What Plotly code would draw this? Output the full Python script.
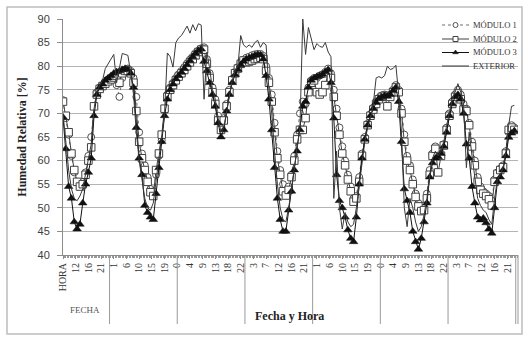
import plotly.graph_objects as go

# ---------------- data (hourly readings, first reading at 07:30 of day 1) ----------------
start_hour = 7.5
step_hours = 1.0

modulo1 = [
    72.8, 69, 65.5, 61, 57.5, 55.5, 55, 55.5, 57.5, 61, 65, 71.5, 74.5, 75.5, 76, 76.5, 77.2,
    77.5, 78, 76, 73.5, 77.5, 79.2, 79.5, 79, 77.5, 73.5, 66, 61.5, 59, 56.5, 54, 53.5, 57, 61, 64.3, 70.5, 74, 75.5, 76.5, 77.5,
    78.3, 79, 79.8, 80.6, 81.4, 82, 82.8, 83.3, 83.8, 84, 81.5, 78.5, 75.5, 73, 69.5, 67.5, 69, 72, 75, 77.3, 78.8, 79.8, 80.8, 81.4,
    81.8, 82, 82.3, 82.5, 82.6, 82.6, 82.2, 80, 77.5, 74, 68, 62, 58, 55, 53.5, 54.5, 57, 61, 65.5, 70, 72.5, 72, 75.5, 77,
    77.5, 77.5, 78, 78.3, 78.8, 79.5, 78.5, 75, 71, 67, 63, 60, 57, 54.5, 52, 52.5, 56.5, 61.5, 65, 67.8, 69.8, 71.2, 72.5, 73.3,
    73.8, 74, 73.5, 74, 75, 76, 75, 71, 65.5, 61, 59, 56, 53, 51, 50, 50.5, 53, 58, 61.5, 63, 61, 61.5, 63.5, 67,
    70, 72.5, 74, 75, 74, 72, 71, 68, 64, 60, 56.5, 54.5, 53.5, 53, 52.5, 51.5, 56, 57.5, 58.3, 59, 62, 66, 67.5, 67,
]
modulo2 = [
    72.5, 69.5, 66, 61.5, 58, 55.5, 54.5, 55, 57, 60, 62.8, 71.5, 74, 75.2, 75.8, 76.3, 76.8,
    77.2, 77.6, 78, 76.5, 78.5, 79, 79, 78.5, 76.5, 70.5, 64, 60.5, 58, 55.5, 53.3, 52.5, 58, 61.5, 65.5, 71, 73.5, 75, 76, 77,
    77.8, 78.5, 79.2, 80, 80.8, 81.5, 82.3, 83, 83.5, 83.5, 80.5, 77.5, 74.5, 72, 68.5, 66.5, 68.5, 71.5, 74.5, 77, 78.5, 79.5, 80.5, 81.2,
    80.8, 81, 81.2, 81.5, 81.6, 81.8, 81.5, 79, 76.5, 72.5, 66, 60.5, 57, 53.5, 52.6, 53.8, 56.5, 60, 64.5, 66.5, 66.5, 69, 74.5, 76.5,
    77, 74.5, 74, 74.5, 76, 78.5, 77.5, 73.5, 69.5, 65.5, 61.5, 59, 56, 53.5, 51.3, 52, 55.5, 61, 64.5, 67.5, 69.5, 70.8, 72, 73,
    73.5, 73.7, 71.5, 73.5, 74.5, 75.5, 74.5, 70, 64, 60, 58, 55, 52.3, 50.3, 49.3, 49.5, 52, 57, 61, 62.5, 57.5, 61, 63.2, 66.5,
    69.5, 72, 73.5, 74.3, 73, 70.8, 70.5, 67.5, 63, 59, 55.5, 53.8, 53, 52.5, 51.8, 50.5, 55.5, 57.2, 58, 58.6, 61.5, 66.5, 67, 66.5,
]
modulo3 = [
    69.2, 62.5, 54.5, 52, 47, 45.5, 46.5, 51, 55, 57.5, 60.5, 69.5, 74, 75.5, 76.2, 77, 77.5,
    78, 78.5, 78.8, 79, 79.3, 79.5, 79.3, 78.5, 75.5, 67, 60.5, 57, 50.5, 49, 48, 47.5, 53, 58.5, 64, 69.5, 73, 75, 76.2, 77.3,
    78, 78.7, 79.5, 80.3, 81.2, 82, 82.7, 83.3, 83.6, 81, 79, 76.5, 74, 71.5, 68, 65, 66.5, 70.5, 74, 76.5, 78.2, 79.3, 80.3, 81,
    81.5, 81.8, 82, 82.3, 82.5, 82.4, 81.5, 78, 73, 66.5, 58.5, 52, 47.5, 45, 45, 49.5, 53.5, 58, 62, 66.5, 71.5, 72.5, 75.5, 77,
    77.5, 77.8, 78, 78.3, 78.8, 79.3, 76.5, 69, 57, 51.5, 50, 48, 45.3, 43.5, 42.8, 48, 55, 60.5, 64.5, 67.5, 69.5, 71, 72.3, 73.2,
    73.5, 73.8, 73.6, 74, 74.8, 75.5, 72.5, 64, 54, 51.5, 49, 45, 42.8, 41.2, 43.5, 47, 51, 56.5, 59.5, 60.5, 60.8, 61.5, 63, 66,
    69.5, 72, 73.5, 74, 73, 70, 63.5, 60.5, 54.5, 51, 48, 47.4, 47.8, 46.8, 45.5, 44.6, 50, 55.5, 56.5, 58, 61, 64.9, 65.8, 66.3,
]
exterior = [
    70, 64, 58, 54, 52, 51.5, 52.5, 54, 57, 60, 63.5, 71, 74.5, 76, 77, 79.5, 80.5,
    81.5, 82.5, 76.5, 80, 82.7, 82.5, 82.3, 78.5, 74, 66, 60, 56, 52, 50, 49.5, 51, 56, 60, 65, 70, 82.8, 82, 79.8, 85,
    86, 86.5, 87.5, 88.5, 87, 88.8, 87.5, 89, 88.7, 73, 83, 79.5, 75, 73, 69, 66, 67, 70.5, 74, 77, 79, 80, 86.5, 84.5,
    84, 84.5, 84, 85, 85.5, 84, 85, 84.5, 75, 70, 62, 55, 50, 47.5, 47, 50, 54, 58, 62.5, 67, 90, 82.5, 88.2, 85.5,
    83.5, 84.8, 84.2, 84, 85, 83, 82, 52, 62, 50, 45.5, 49, 47, 46, 46.5, 50, 55, 60, 64, 67, 69, 72, 77.5, 77.8,
    77.5, 78, 80, 79.3, 79.5, 80.2, 74, 66, 50, 46, 52, 50, 47, 45, 46, 48.5, 52, 57, 60.5, 62, 61, 62, 64, 67.5,
    70.5, 73, 74.5, 76.3, 74.5, 72, 58.5, 66, 61, 56, 52, 50.5, 49.5, 49, 47.5, 46.5, 52, 56, 57, 58.5, 62, 67.5, 71.5, 71.7,
]
hour_labels = ["HORA", "12", "16", "21", "1", "6", "10", "15", "19", "0", "4", "9", "13", "18", "22",
               "3", "7", "12", "16", "21", "1", "6", "10", "15", "19", "0", "4", "9", "13", "18", "22",
               "3", "7", "12", "16", "21"]
label_every_hours = 4.5
series_names = ["MÓDULO 1", "MÓDULO 2", "MÓDULO 3", "EXTERIOR"]

# ---------------- geometry ----------------
W, H = 531, 363
ML, MR, MT, MB = 63, 13, 19, 108
PW, PH = W - ML - MR, H - MT - MB


def px_to_paper_x(px):
    return (px - ML) / PW


def py_to_paper_y(py):
    return (H - MB - py) / PH


hours = [start_hour + i * step_hours for i in range(len(modulo1))]
x_end = 168.8

styles = [
    dict(line=dict(color="#6e6e6e", width=1, dash="dot"),
         marker=dict(symbol="circle", size=7, color="white", line=dict(color="#505050", width=1))),
    dict(line=dict(color="#404040", width=1),
         marker=dict(symbol="square", size=7.5, color="white", line=dict(color="#404040", width=1))),
    dict(line=dict(color="#111111", width=1),
         marker=dict(symbol="triangle-up", size=7.5, color="#111111", line=dict(color="#111111", width=0.5))),
    dict(line=dict(color="#3a3a3a", width=1), marker=None),
]

fig = go.Figure()
for name, vals, st in zip(series_names, [modulo1, modulo2, modulo3, exterior], styles):
    kw = dict(x=hours, y=vals, name=name, showlegend=False, line=st["line"],
              mode="lines+markers" if st["marker"] else "lines")
    if st["marker"]:
        kw["marker"] = st["marker"]
    fig.add_trace(go.Scatter(**kw))

# ---------------- custom legend (drawn on a pixel-based overlay axis) ----------------
leg_rows_y = [25, 39, 52.5, 66]
leg_x0, leg_x1, leg_text_x = 442, 469, 471
for name, st, ly in zip(series_names, styles, leg_rows_y):
    fig.add_trace(go.Scatter(x=[leg_x0, leg_x1], y=[ly, ly], mode="lines", line=st["line"],
                             xaxis="x2", yaxis="y2", showlegend=False, hoverinfo="skip"))
    if st["marker"]:
        m = dict(st["marker"])
        m["size"] = 5
        fig.add_trace(go.Scatter(x=[(leg_x0 + leg_x1) / 2], y=[ly], mode="markers", marker=m,
                                 xaxis="x2", yaxis="y2", showlegend=False, hoverinfo="skip"))

tickvals = [start_hour + i * label_every_hours for i in range(len(hour_labels))]

shapes = []
# outer chart frame
shapes.append(dict(type="rect", xref="paper", yref="paper",
                   x0=px_to_paper_x(7), x1=px_to_paper_x(522),
                   y0=py_to_paper_y(334), y1=py_to_paper_y(7),
                   line=dict(color="#bdbdbd", width=1.5), fillcolor="rgba(0,0,0,0)", layer="above"))
# legend background
shapes.append(dict(type="rect", xref="paper", yref="paper",
                   x0=px_to_paper_x(437), x1=px_to_paper_x(517),
                   y0=py_to_paper_y(73), y1=py_to_paper_y(21),
                   line=dict(width=0), fillcolor="white", layer="between"))
# date-group separators below the axis
d = 24
while d < x_end:
    shapes.append(dict(type="line", xref="x", yref="paper", x0=d, x1=d,
                       y0=0, y1=py_to_paper_y(324), line=dict(color="#9a9a9a", width=1)))
    d += 24
shapes.append(dict(type="line", xref="paper", yref="paper", x0=1, x1=1,
                   y0=0, y1=py_to_paper_y(324), line=dict(color="#9a9a9a", width=1)))

annotations = [
    dict(text="FECHA", xref="paper", yref="paper", x=px_to_paper_x(68), y=py_to_paper_y(310),
         xanchor="left", yanchor="middle", showarrow=False,
         font=dict(family="Liberation Serif", size=9, color="#555555")),
    dict(text="<b>Fecha y Hora</b>", xref="paper", yref="paper", x=px_to_paper_x(289), y=py_to_paper_y(316),
         xanchor="center", yanchor="middle", showarrow=False,
         font=dict(family="Liberation Serif", size=12, color="#222222")),
]
for name, ly in zip(series_names, leg_rows_y):
    annotations.append(dict(text=name, xref="paper", yref="paper", x=px_to_paper_x(leg_text_x),
                            y=py_to_paper_y(ly), xanchor="left", yanchor="middle", showarrow=False,
                            font=dict(family="Liberation Serif", size=8.5, color="#333333")))

fig.update_layout(
    width=W, height=H,
    margin=dict(l=ML, r=MR, t=MT, b=MB, pad=0, autoexpand=False),
    paper_bgcolor="white", plot_bgcolor="white",
    showlegend=False,
    shapes=shapes,
    annotations=annotations,
    font=dict(family="Liberation Sans", size=11, color="#333333"),
    xaxis2=dict(overlaying="x", range=[ML, W - MR], visible=False, fixedrange=True),
    yaxis2=dict(overlaying="y", range=[H - MB, MT], visible=False, fixedrange=True),
    xaxis=dict(
        range=[start_hour, x_end], tickmode="array", tickvals=tickvals, ticktext=hour_labels,
        tickangle=-90, tickfont=dict(family="Liberation Serif", size=10, color="#333333"),
        showgrid=False, zeroline=False, showline=True, linecolor="#8c8c8c", linewidth=1,
        ticks="outside", ticklen=3, tickcolor="#8c8c8c", automargin=False,
        minor=dict(dtick=0.5, tick0=start_hour, ticks="outside", ticklen=2, tickcolor="#9a9a9a", showgrid=False),
    ),
    yaxis=dict(
        range=[40, 90], dtick=5, tick0=40,
        showgrid=True, gridcolor="#b4b4b4", gridwidth=1,
        zeroline=False, showline=True, linecolor="#8c8c8c", linewidth=1,
        ticks="outside", ticklen=5, tickcolor="#8c8c8c", automargin=False, ticklabelstandoff=5,
        tickfont=dict(family="Liberation Sans", size=11, color="#404040"),
        title=dict(text="<b>Humedad Relativa [%]</b>", standoff=8,
                   font=dict(family="Liberation Serif", size=12, color="#222222")),
    ),
)

fig.write_html("out.html", config={"displayModeBar": False, "staticPlot": True},
               post_script="document.body.style.margin='0px';")
